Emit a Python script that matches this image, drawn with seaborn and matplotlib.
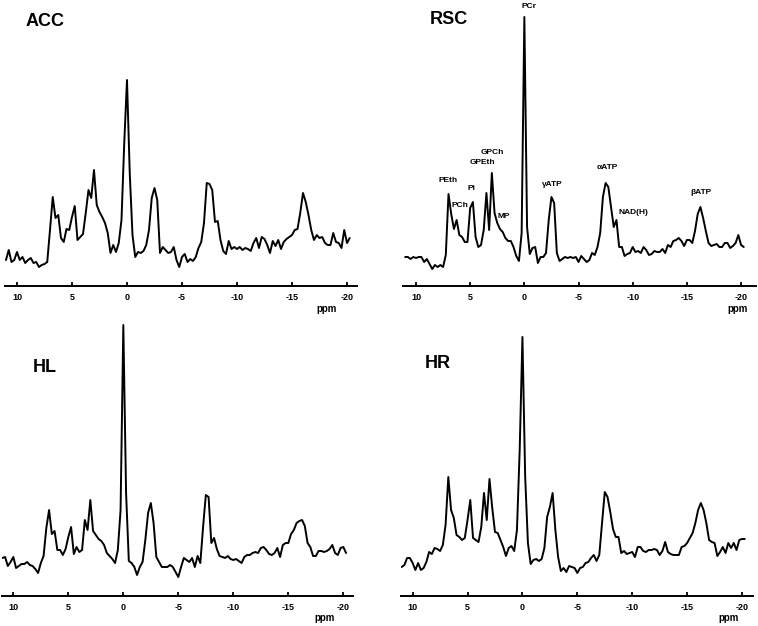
import numpy as np
import pandas as pd
import matplotlib
matplotlib.use("Agg")
import matplotlib.pyplot as plt
import seaborn as sns

# chemical shift axis (ppm), 0.25 ppm sampling from 11.0 down to -20.25
ppm = np.arange(11.0, -20.26, -0.25)

acc = [26, 36, 24, 26, 34, 26, 29, 23, 26, 28,
       23, 24, 19, 21, 22, 24, 56, 89, 68, 71,
       48, 44, 57, 56, 69, 80, 46, 49, 52, 73,
       96, 88, 116, 81, 74, 69, 63, 53, 33, 41,
       34, 43, 66, 143, 206, 113, 51, 29, 34, 33,
       35, 41, 56, 88, 98, 86, 33, 39, 36, 33,
       34, 39, 26, 19, 29, 32, 24, 27, 25, 29,
       38, 44, 63, 103, 102, 96, 64, 65, 46, 35,
       32, 45, 37, 39, 37, 39, 36, 38, 37, 35,
       43, 48, 38, 49, 47, 41, 33, 45, 40, 46,
       37, 44, 47, 49, 51, 56, 57, 73, 93, 84,
       71, 56, 46, 51, 48, 49, 43, 41, 41, 53,
       44, 43, 38, 56, 43, 48]

rsc = [29, 29, 27, 29, 28, 29, 29, 24, 27, 22,
       17, 21, 19, 21, 19, 31, 92, 72, 57, 66,
       51, 49, 44, 44, 78, 84, 49, 39, 41, 56,
       93, 56, 113, 73, 63, 57, 54, 48, 45, 45,
       39, 30, 25, 53, 269, 59, 32, 38, 39, 23,
       29, 29, 33, 66, 89, 83, 33, 25, 27, 29,
       28, 29, 28, 29, 24, 30, 27, 24, 26, 33,
       31, 39, 53, 89, 103, 99, 79, 59, 66, 39,
       39, 30, 32, 33, 39, 34, 35, 33, 39, 36,
       31, 32, 35, 34, 34, 37, 33, 41, 39, 45,
       46, 48, 45, 40, 46, 46, 43, 55, 72, 79,
       68, 55, 43, 40, 41, 42, 39, 39, 43, 43,
       38, 40, 43, 51, 41, 39]

hl = [38, 39, 30, 34, 39, 28, 30, 32, 32, 34,
      31, 30, 27, 23, 33, 40, 68, 86, 62, 65,
      46, 46, 41, 47, 59, 69, 42, 49, 44, 46,
      76, 66, 96, 65, 61, 57, 55, 51, 43, 40,
      37, 33, 46, 86, 271, 103, 35, 33, 29, 21,
      29, 34, 56, 83, 93, 73, 39, 34, 29, 29,
      29, 31, 29, 24, 19, 29, 38, 36, 34, 38,
      29, 40, 33, 69, 101, 99, 53, 58, 47, 40,
      39, 38, 40, 37, 36, 37, 35, 33, 39, 41,
      41, 43, 44, 43, 48, 49, 46, 42, 41, 43,
      48, 39, 51, 53, 53, 62, 66, 73, 75, 76,
      70, 53, 49, 40, 40, 45, 45, 44, 45, 47,
      51, 43, 41, 48, 49, 43]

hr = [29, 31, 38, 38, 33, 26, 33, 26, 28, 34,
      44, 42, 48, 47, 45, 51, 71, 119, 86, 78,
      61, 59, 56, 58, 76, 96, 58, 56, 54, 69,
      103, 76, 117, 88, 64, 63, 56, 49, 40, 48,
      50, 45, 66, 146, 259, 119, 53, 32, 36, 37,
      35, 37, 48, 79, 89, 103, 66, 39, 25, 28,
      24, 30, 29, 28, 23, 28, 29, 33, 34, 38,
      41, 35, 41, 73, 104, 99, 84, 67, 59, 59,
      43, 45, 42, 43, 44, 39, 49, 49, 45, 44,
      46, 46, 47, 46, 41, 45, 54, 44, 42, 41,
      41, 41, 49, 50, 53, 58, 63, 73, 86, 93,
      86, 73, 56, 54, 53, 40, 44, 49, 43, 53,
      48, 53, 46, 56, 57, 57]

panel_names = ["ACC", "RSC", "HL", "HR"]
tick_values = [10, 5, 0, -5, -10, -15, -20]
tick_labels = ["10", "5", "0", "-5", "-10", "-15", "-20"]

peak_labels = ["PCr", "PEth", "PCh", "Pi", "GPEth", "GPCh", "MP",
               "γATP", "αATP", "NAD(H)", "βATP"]

sns.set_style("white")
plt.rcParams["font.family"] = ["Liberation Sans", "DejaVu Sans"]
plt.rcParams["axes.unicode_minus"] = False
plt.rcParams["text.color"] = "black"
plt.rcParams["xtick.color"] = "black"
plt.rcParams["xtick.bottom"] = True
plt.rcParams["xtick.direction"] = "in"
plt.rcParams["xtick.major.size"] = 3
plt.rcParams["xtick.major.width"] = 1.3

W, H = 758, 626
fig = plt.figure(figsize=(W / 100, H / 100), dpi=100)
fig.patch.set_facecolor("white")

# axes boxes in pixels: left, right, axis-line y, top y ; xlim
boxes = {
    "ACC": (5, 357, 286, 0, (11.09, -20.91)),
    "RSC": (403, 756, 286, 0, (11.2, -21.38)),
    "HL": (2, 353, 596, 310, (11.03, -20.88)),
    "HR": (401, 753, 596, 310, (11.06, -21.0)),
}
series = {"ACC": acc, "RSC": rsc, "HL": hl, "HR": hr}
title_pos = {"ACC": (45, 22), "RSC": (449, 20), "HL": (45, 368), "HR": (438, 364)}
ppm_pos = {"ACC": (327, 309), "RSC": (738, 309), "HL": (325, 618), "HR": (729, 618)}

for name in panel_names:
    l, r, yb, yt, xl = boxes[name]
    ax = fig.add_axes([l / W, 1 - yb / H, (r - l) / W, (yb - yt) / H])
    df = pd.DataFrame({"ppm": ppm, "signal": series[name]})
    sns.lineplot(data=df, x="ppm", y="signal", ax=ax, color="black",
                 linewidth=1.4, estimator=None, sort=False)
    ax.set_xlim(*xl)
    ax.set_ylim(0, yb - yt)
    ax.set_facecolor("none")
    for s in ["top", "left", "right"]:
        ax.spines[s].set_visible(False)
    ax.spines["bottom"].set_linewidth(1.4)
    ax.spines["bottom"].set_color("black")
    ax.set_yticks([])
    ax.set_xticks(tick_values)
    ax.set_xticklabels(tick_labels, fontsize=6.5, fontweight="bold",
                       color="black")
    ax.xaxis.set_ticks_position("bottom")
    ax.tick_params(axis="x", which="major", bottom=True, direction="in",
                   length=3, width=1.3, pad=5, colors="black")
    ax.set_xlabel("")
    ax.set_ylabel("")
    tx, ty = title_pos[name]
    fig.text(tx / W, 1 - ty / H, name, fontsize=13, fontweight="bold",
             ha="center", va="center", color="black")
    px, py = ppm_pos[name]
    fig.text(px / W, 1 - py / H, "ppm", fontsize=7, fontweight="bold",
             ha="center", va="center", color="black")

label_pos = [(529, 6), (448, 180), (460, 206), (471, 189), (482, 163),
             (492, 153), (504, 217), (552, 185), (607, 168), (633, 212),
             (701, 193)]
for txt, (x, y) in zip(peak_labels, label_pos):
    fig.text(x / W, 1 - y / H, txt, fontsize=6, fontweight="bold",
             ha="center", va="center", color="black")

fig.savefig("out.png", dpi=100, facecolor="white")
